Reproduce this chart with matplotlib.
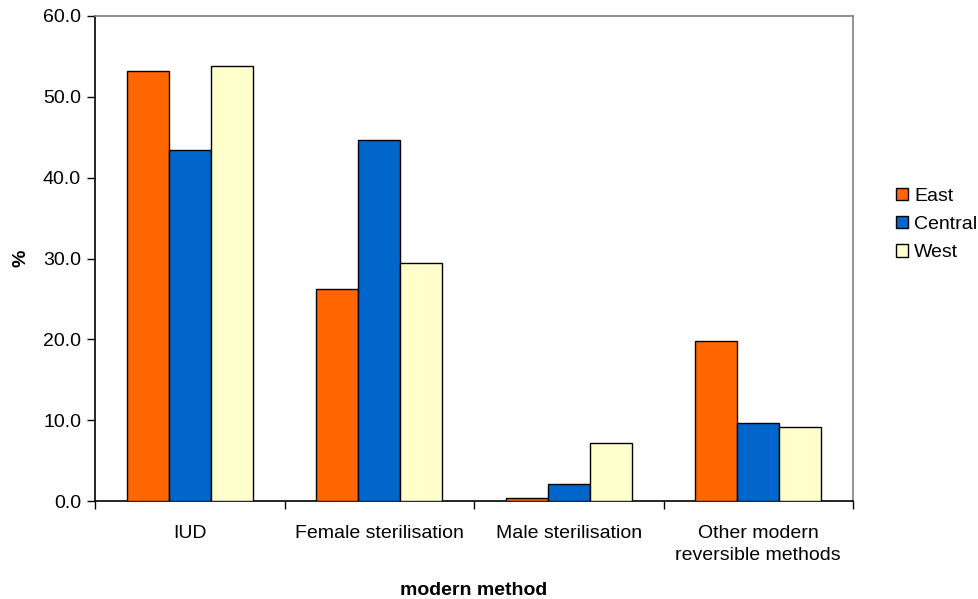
import matplotlib
matplotlib.use("Agg")
import matplotlib.pyplot as plt
import numpy as np

categories = ["IUD", "Female sterilisation", "Male sterilisation", "Other modern\nreversible methods"]
series_names = ["East", "Central", "West"]
east = [53.2, 26.2, 0.4, 19.8]
central = [43.4, 44.7, 2.1, 9.6]
west = [53.8, 29.4, 7.2, 9.2]
yticks = [0, 10, 20, 30, 40, 50, 60]

colors = ["#FF6600", "#0066CC", "#FFFFCC"]

plt.rcParams['font.family'] = ['Liberation Sans', 'DejaVu Sans']
plt.rcParams['font.size'] = 14

fig = plt.figure(figsize=(9.79, 5.99), dpi=100)
ax = fig.add_axes([95/979, 1-501/599, (853-95)/979, (501-16)/599])

x = np.arange(len(categories))
bw = 0.222
for i, (vals, name) in enumerate(zip([east, central, west], series_names)):
    ax.bar(x + (i-1)*bw, vals, width=bw, color=colors[i], edgecolor="black",
           linewidth=1.0, label=name, zorder=3)

ax.set_xlim(-0.5, len(categories)-0.5)
ax.set_ylim(0, 60)
ax.set_yticks(yticks)
ax.set_yticklabels([f"{v:.1f}" for v in yticks])
ax.set_xticks(x)
ax.set_xticklabels(categories, linespacing=1.4)
ax.tick_params(axis='x', which='major', length=0, pad=17)
ax.set_xticks(np.arange(-0.5, len(categories), 1.0), minor=True)
ax.tick_params(axis='x', which='minor', length=6, width=1, color='black')
ax.tick_params(axis='y', length=6, width=1, color='black', pad=4)

for s in ['top', 'right']:
    ax.spines[s].set_color('#808080')
    ax.spines[s].set_linewidth(1.2)
for s in ['left', 'bottom']:
    ax.spines[s].set_color('black')
    ax.spines[s].set_linewidth(1.2)

ax.set_xlabel("modern method", fontweight='bold', labelpad=13)
ax.set_ylabel("%", fontweight='bold', labelpad=10)

leg = fig.legend(loc='center left', bbox_to_anchor=(0.915, 0.625), frameon=False,
                 handlelength=0.64, handleheight=0.6, handletextpad=0.3,
                 labelspacing=0.58, borderaxespad=0, borderpad=0)

fig.savefig("out.png", dpi=100, facecolor='white')
